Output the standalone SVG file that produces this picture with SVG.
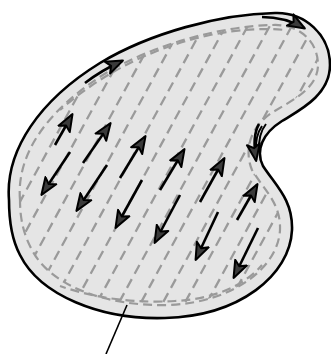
<svg xmlns="http://www.w3.org/2000/svg" width="331" height="354" viewBox="0 0 331 354">
<style>
.outline{fill:#e5e5e5;stroke:#000;stroke-width:2.6}
.inner{fill:none;stroke:#9a9a9a;stroke-width:2.2;stroke-dasharray:9 5}
.diag{stroke:#9a9a9a;stroke-width:2.3;stroke-dasharray:10 6}
.arr{fill:none;stroke:#000;stroke-width:2.6;marker-end:url(#ah)}
.flow{fill:none;stroke:#000;stroke-width:2}
.leader{stroke:#000;stroke-width:1.6}
</style>
<defs>
<marker id="ah" markerUnits="userSpaceOnUse" markerWidth="20" markerHeight="16" refX="17" refY="8" orient="auto" viewBox="0 0 20 16">
<path d="M1,1.5 L18,8 L1,14.5 L5,8 Z" fill="#3a3a3a" stroke="#000" stroke-width="2" stroke-linejoin="round"/>
</marker>
<clipPath id="cp">
<path d="M 20,200 C 16,152 50,108 106,73 C 155,44 222,26 273,25 C 300,24 318,42 318,65 C 318,88 293,100 273,112 C 252,125 243,148 252,170 C 264,190 281,203 280,230 C 278,268 233,302 170,305 C 105,307 50,285 32,250 C 24,235 20,220 20,200 Z"/>
</clipPath>
</defs>
<g id="body">
<path class="outline" d="M 9,200 C 5,150 40,100 100,63 C 150,33 220,14 275,13 C 305,12 330,35 330,65 C 330,95 300,110 282,121 C 263,133 255,150 263,166 C 276,186 293,200 292,230 C 290,275 240,316 165,318 C 100,320 40,295 20,255 C 12,240 9,220 9,200 Z"/>
<path class="inner" d="M 20,200 C 16,152 50,108 106,73 C 155,44 222,26 273,25 C 300,24 318,42 318,65 C 318,88 293,100 273,112 C 252,125 243,148 252,170 C 264,190 281,203 280,230 C 278,268 233,302 170,305 C 105,307 50,285 32,250 C 24,235 20,220 20,200 Z"/>
<path class="inner" stroke-dashoffset="5" d="M 60,110 C 100,75 150,48 210,35 C 240,29 265,28 285,30"/>
<path class="inner" stroke-dashoffset="3" d="M 60,286 C 100,300 140,303 175,301 C 215,299 245,285 262,265"/>
<g clip-path="url(#cp)">
<line class="diag" x1="-160" y1="330" x2="20" y2="0"/>
<line class="diag" x1="-138" y1="330" x2="42" y2="0"/>
<line class="diag" x1="-116" y1="330" x2="64" y2="0"/>
<line class="diag" x1="-94" y1="330" x2="86" y2="0"/>
<line class="diag" x1="-72" y1="330" x2="108" y2="0"/>
<line class="diag" x1="-50" y1="330" x2="130" y2="0"/>
<line class="diag" x1="-28" y1="330" x2="152" y2="0"/>
<line class="diag" x1="-6" y1="330" x2="174" y2="0"/>
<line class="diag" x1="16" y1="330" x2="196" y2="0"/>
<line class="diag" x1="38" y1="330" x2="218" y2="0"/>
<line class="diag" x1="60" y1="330" x2="240" y2="0"/>
<line class="diag" x1="82" y1="330" x2="262" y2="0"/>
<line class="diag" x1="104" y1="330" x2="284" y2="0"/>
<line class="diag" x1="126" y1="330" x2="306" y2="0"/>
<line class="diag" x1="148" y1="330" x2="328" y2="0"/>
<line class="diag" x1="170" y1="330" x2="350" y2="0"/>
<line class="diag" x1="192" y1="330" x2="372" y2="0"/>
<line class="diag" x1="214" y1="330" x2="394" y2="0"/>
<line class="diag" x1="236" y1="330" x2="416" y2="0"/>
<line class="diag" x1="258" y1="330" x2="438" y2="0"/>
</g>
</g>
<g id="connectors">
<line class="arr" x1="55" y1="145" x2="72" y2="115"/>
<line class="arr" x1="83" y1="163" x2="110" y2="124"/>
<line class="arr" x1="120" y1="178" x2="145" y2="137"/>
<line class="arr" x1="160" y1="190" x2="184" y2="150"/>
<line class="arr" x1="200" y1="202" x2="224" y2="159"/>
<line class="arr" x1="237" y1="220" x2="257" y2="185"/>
<line class="arr" x1="70" y1="152" x2="42" y2="194"/>
<line class="arr" x1="107" y1="165" x2="77" y2="210"/>
<line class="arr" x1="142" y1="180" x2="116" y2="227"/>
<line class="arr" x1="180" y1="195" x2="155" y2="242"/>
<line class="arr" x1="218" y1="212" x2="196" y2="259"/>
<line class="arr" x1="258" y1="228" x2="234" y2="277"/>
<path class="arr" d="M85,83 Q102,70 122,61"/>
<path class="arr" d="M262,17 Q285,17 304,28"/>
<path class="flow" d="M266,124 Q258,134 259,152"/>
<path class="flow" d="M262,126 Q255,136 256,152"/>
<path class="arr" d="M259,124 Q252,136 256,160"/>
<line class="leader" x1="127" y1="305" x2="106" y2="354"/>
</g>
</svg>
